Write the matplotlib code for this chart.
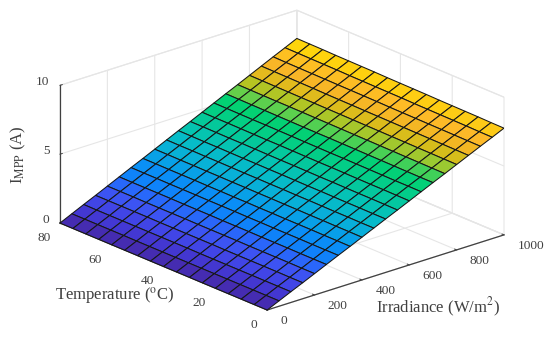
import matplotlib
matplotlib.use('Agg')
import matplotlib.pyplot as plt
import numpy as np
from matplotlib.colors import LinearSegmentedColormap
from mpl_toolkits.mplot3d import proj3d

plt.rcParams['font.family'] = ['Liberation Serif', 'DejaVu Serif']
plt.rcParams['mathtext.fontset'] = 'stix'

irradiance = [0, 50, 100, 150, 200, 250, 300, 350, 400, 450, 500, 550, 600, 650, 700, 750, 800, 850, 900, 950, 1000]
temperature = [0, 5, 10, 15, 20, 25, 30, 35, 40, 45, 50, 55, 60, 65, 70, 75, 80]
i_mpp = [
    [0, 0, 0, 0, 0, 0, 0, 0, 0, 0, 0, 0, 0, 0, 0, 0, 0],
    [.39, .39, .39, .39, .39, .39, .39, .39, .39, .39, .39, .39, .40, .40, .40, .40, .40],
    [.78, .78, .78, .78, .78, .78, .78, .78, .79, .79, .79, .79, .79, .79, .79, .79, .80],
    [1.16, 1.16, 1.17, 1.17, 1.17, 1.17, 1.17, 1.18, 1.18, 1.18, 1.18, 1.18, 1.19, 1.19, 1.19, 1.19, 1.19],
    [1.55, 1.55, 1.56, 1.56, 1.56, 1.56, 1.57, 1.57, 1.57, 1.57, 1.58, 1.58, 1.58, 1.58, 1.59, 1.59, 1.59],
    [1.94, 1.94, 1.94, 1.95, 1.95, 1.95, 1.96, 1.96, 1.96, 1.97, 1.97, 1.97, 1.98, 1.98, 1.98, 1.98, 1.99],
    [2.33, 2.33, 2.33, 2.34, 2.34, 2.34, 2.35, 2.35, 2.36, 2.36, 2.36, 2.37, 2.37, 2.37, 2.38, 2.38, 2.39],
    [2.71, 2.72, 2.72, 2.73, 2.73, 2.73, 2.74, 2.74, 2.75, 2.75, 2.76, 2.76, 2.77, 2.77, 2.77, 2.78, 2.78],
    [3.10, 3.11, 3.11, 3.12, 3.12, 3.13, 3.13, 3.14, 3.14, 3.15, 3.15, 3.16, 3.16, 3.17, 3.17, 3.18, 3.18],
    [3.49, 3.49, 3.50, 3.50, 3.51, 3.52, 3.52, 3.53, 3.53, 3.54, 3.54, 3.55, 3.56, 3.56, 3.57, 3.57, 3.58],
    [3.88, 3.88, 3.89, 3.89, 3.90, 3.91, 3.91, 3.92, 3.93, 3.93, 3.94, 3.94, 3.95, 3.96, 3.96, 3.97, 3.98],
    [4.26, 4.27, 4.28, 4.28, 4.29, 4.30, 4.30, 4.31, 4.32, 4.32, 4.33, 4.34, 4.35, 4.35, 4.36, 4.37, 4.37],
    [4.65, 4.66, 4.67, 4.67, 4.68, 4.69, 4.70, 4.70, 4.71, 4.72, 4.73, 4.73, 4.74, 4.75, 4.76, 4.76, 4.77],
    [5.04, 5.05, 5.05, 5.06, 5.07, 5.08, 5.09, 5.09, 5.10, 5.11, 5.12, 5.13, 5.14, 5.14, 5.15, 5.16, 5.17],
    [5.43, 5.43, 5.44, 5.45, 5.46, 5.47, 5.48, 5.49, 5.50, 5.50, 5.51, 5.52, 5.53, 5.54, 5.55, 5.56, 5.57],
    [5.81, 5.82, 5.83, 5.84, 5.85, 5.86, 5.87, 5.88, 5.89, 5.90, 5.91, 5.92, 5.93, 5.93, 5.94, 5.95, 5.96],
    [6.20, 6.21, 6.22, 6.23, 6.24, 6.25, 6.26, 6.27, 6.28, 6.29, 6.30, 6.31, 6.32, 6.33, 6.34, 6.35, 6.36],
    [6.59, 6.60, 6.61, 6.62, 6.63, 6.64, 6.65, 6.66, 6.67, 6.68, 6.69, 6.70, 6.72, 6.73, 6.74, 6.75, 6.76],
    [6.98, 6.99, 7.00, 7.01, 7.02, 7.03, 7.04, 7.05, 7.07, 7.08, 7.09, 7.10, 7.11, 7.12, 7.13, 7.14, 7.16],
    [7.36, 7.37, 7.39, 7.40, 7.41, 7.42, 7.43, 7.45, 7.46, 7.47, 7.48, 7.49, 7.51, 7.52, 7.53, 7.54, 7.55],
    [7.75, 7.76, 7.78, 7.79, 7.80, 7.81, 7.83, 7.84, 7.85, 7.86, 7.88, 7.89, 7.90, 7.91, 7.93, 7.94, 7.95],
]
x_ticks = [0, 200, 400, 600, 800, 1000]
y_ticks = [0, 20, 40, 60, 80]
z_ticks = [0, 5, 10]

palette = ['#46289f', '#4432c8', '#4240e2', '#4050f0', '#3060fa', '#1080fa', '#0a8cf8',
           '#08a0e8', '#08b0d8', '#06bcc8', '#05c4b0', '#04c998', '#03cf80', '#03d170',
           '#80cf40', '#c8c018', '#f0b820', '#fdb52c', '#fdc71a', '#ffe000']
cmap = LinearSegmentedColormap.from_list('parula_like', palette)

W, H = 550, 337
fig = plt.figure(figsize=(W / 100, H / 100), dpi=100, facecolor='white')
ax = fig.add_axes([0, 0, 1, 1], projection='3d', facecolor='none')
ax.set_proj_type('ortho')
ax.view_init(elev=21.4, azim=229)
ax.set_box_aspect((314, 316, 148))
ax.set_xlim(0, 1000, view_margin=0)
ax.set_ylim(0, 80, view_margin=0)
ax.set_zlim(0, 10, view_margin=0)

G, T = np.meshgrid(irradiance, temperature, indexing='ij')
Z = np.array(i_mpp)
ax.plot_surface(G, T, Z, rstride=1, cstride=1, cmap=cmap, vmin=0, vmax=7.95,
                shade=False, edgecolor='#161616', linewidth=0.75, antialiased=True)

ax.set_xticks(x_ticks)
ax.set_yticks(y_ticks)
ax.set_zticks(z_ticks)
ax.zaxis.set_ticks_position('upper')

TXT = '#404040'
for axis in (ax.xaxis, ax.yaxis, ax.zaxis):
    axis.set_pane_color((1, 1, 1, 1))
    axis.pane.set_edgecolor('#e4e4e4')
    axis.pane.set_linewidth(0.8)
    axis.line.set_color('#404040')
    axis.line.set_linewidth(0.9)
    info = axis._axinfo
    info['grid'].update(color='#e6e6e6', linewidth=0.8)
    info['tick'].update(inward_factor=0.0, outward_factor=0.12, linewidth={True: 0.7, False: 0.5}, color='#404040')
    axis.set_tick_params(labelsize=9.6, labelcolor=TXT, colors=TXT)

ax.tick_params(axis='x', pad=3)
ax.tick_params(axis='y', pad=-1)
ax.tick_params(axis='z', pad=-4)
plt.setp(ax.get_xticklabels(), ha='left', va='baseline')
plt.setp(ax.get_yticklabels(), ha='right')
plt.setp(ax.get_zticklabels(), ha='right', va='baseline')

ax.set_xlabel('Irradiance (W/m$^{2}$)', fontsize=12, color=TXT)
ax.set_ylabel('Temperature ($^{\\mathrm{o}}$C)', fontsize=12, color=TXT)
ax.set_zlabel('I$_{\\mathrm{MPP}}$ (A)', fontsize=12, color=TXT)


def span():
    fig.canvas.draw()
    cx = [0, 0, 1000, 1000]
    cy = [80, 0, 0, 80]
    cz = [0, 0, 0, 10]
    px, py, _ = proj3d.proj_transform(np.array(cx, float), np.array(cy, float), np.array(cz, float), ax.get_proj())
    return ax.transData.transform(np.column_stack([px, py]))


side = 550.0
ax.set_position([0, 0, side / W, side / H])
pts = span()
side *= 444.0 / (pts[:, 0].max() - pts[:, 0].min())
ax.set_position([0, 0, side / W, side / H])
pts = span()
dx = 60 - pts[:, 0].min()
dy = (H - 310) - pts[:, 1].min()
ax.set_position([dx / W, dy / H, side / W, side / H])
fig.canvas.draw()


def pin_label(axis, cx, cy, angle):
    # keep the axis title where the reference has it, unrotated by the 3D axis
    label = axis.label
    label.set_position(tuple(ax.transData.inverted().transform((cx, H - cy))))
    label.set_rotation(angle)
    label.set_position = lambda *a, **k: None
    label.set_rotation = lambda *a, **k: None


pin_label(ax.xaxis, 438, 307, 0)
pin_label(ax.yaxis, 115, 296, 0)
pin_label(ax.zaxis, 18, 155, 90)

fig.savefig('out.png', dpi=100, facecolor='white')
